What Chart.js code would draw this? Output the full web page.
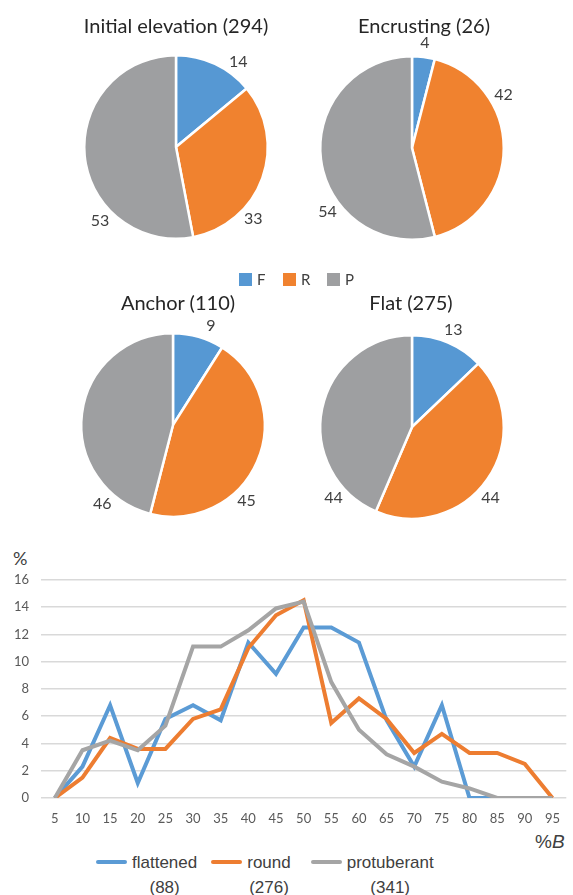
<!DOCTYPE html>
<html>
<head>
<meta charset="utf-8">
<script src="https://cdn.jsdelivr.net/npm/chart.js@4.4.1/dist/chart.umd.min.js"></script>
<style>
  body { margin: 0; background: #fff; width: 573px; height: 895px; position: relative; overflow: hidden; font-family: Lato, sans-serif; color: #404040; }
  .abs { position: absolute; }
  .pie { position: absolute; width: 240px; height: 240px; }
  .title { position: absolute; font-size: 20px; transform: translate(-50%, -50%); white-space: nowrap; color: #262626; }
  #pieLegend { left: 239px; top: 270px; display: flex; font-size: 15px; }
  #pieLegend .item { width: 44px; display: flex; align-items: center; }
  #pieLegend .sw { width: 13px; height: 13px; margin-right: 5px; }
  #lineLegend { top: 850px; left: 96px; display: flex; font-family: "Liberation Sans", Arial, sans-serif; font-size: 17px; color: #404040; }
  #lineLegend .item { display: flex; align-items: flex-start; }
  #lineLegend .sw { width: 31px; height: 4px; margin-top: 10px; margin-right: 5px; border-radius: 2px; }
  #lineLegend .txt { text-align: center; line-height: 25px; }
</style>
</head>
<body>
<div class="pie" style="left:56px; top:27px"><canvas id="pie0"></canvas></div>
<div class="pie" style="left:292px; top:28px"><canvas id="pie1"></canvas></div>
<div class="pie" style="left:53px; top:305px"><canvas id="pie2"></canvas></div>
<div class="pie" style="left:292px; top:307px"><canvas id="pie3"></canvas></div>
<div class="title" id="t0" style="left:176px; top:25px"></div>
<div class="title" id="t1" style="left:424px; top:25px"></div>
<div class="title" id="t2" style="left:178px; top:302px"></div>
<div class="title" id="t3" style="left:411px; top:302px"></div>
<div class="abs" id="pieLegend"></div>

<div class="abs" style="left:13px; top:547px; font-size:18px; color:#404040">%</div>
<div class="abs" style="left:0; top:560px; width:573px; height:266px"><canvas id="lineChart"></canvas></div>
<div class="abs" style="left:535px; top:831px; font-family:'Liberation Sans',Arial,sans-serif; font-size:19px; color:#404040">%<i>B</i></div>
<div class="abs" id="lineLegend"></div>

<script>
// pie data (percent of each group)
const categories = ["F", "R", "P"];
const pieTitles = ["Initial elevation (294)", "Encrusting (26)", "Anchor (110)", "Flat (275)"];
const initialElevation = [14, 33, 53];
const encrusting = [4, 42, 54];
const anchor = [9, 45, 46];
const flat = [13, 44, 44];

// line data
const binLabels = ["5", "10", "15", "20", "25", "30", "35", "40", "45", "50", "55", "60", "65", "70", "75", "80", "85", "90", "95"];
const seriesNames = ["flattened", "round", "protuberant"];
const seriesCounts = ["(88)", "(276)", "(341)"];
const flattened = [0, 2.3, 6.8, 1.1, 5.8, 6.8, 5.7, 11.4, 9.1, 12.5, 12.5, 11.4, 5.7, 2.3, 6.8, 0, 0, 0, 0];
const round = [0, 1.5, 4.4, 3.6, 3.6, 5.8, 6.5, 11.0, 13.4, 14.5, 5.5, 7.3, 5.8, 3.3, 4.7, 3.3, 3.3, 2.5, 0];
const protuberant = [0, 3.5, 4.2, 3.5, 5.3, 11.1, 11.1, 12.3, 13.9, 14.4, 8.5, 5.0, 3.2, 2.3, 1.2, 0.7, 0, 0, 0];

const pieColors = ["#5698D3", "#F0822F", "#9E9FA1"];
const lineColors = ["#5B9BD5", "#ED7D31", "#A5A5A5"];

// where each pie's value label sits (degrees clockwise from top)
const labelAngles = [[36, 133, 226], [7, 60, 233], [21, 136, 222], [23, 132, 228]];
const legendGaps = [14, 20, 0];

Chart.defaults.font.family = "Lato, sans-serif";
Chart.defaults.color = "#595959";

const pieLabels = {
    id: "pieLabels",
    afterDatasetsDraw(chart, args, opts) {
        const ctx = chart.ctx;
        const meta = chart.getDatasetMeta(0);
        ctx.save();
        ctx.font = "16px Lato, sans-serif";
        ctx.fillStyle = "#404040";
        ctx.textAlign = "center";
        ctx.textBaseline = "middle";
        meta.data.forEach((arc, i) => {
            const a = opts.angles[i] * Math.PI / 180;
            const d = arc.outerRadius + 14;
            ctx.fillText(chart.data.datasets[0].data[i], arc.x + Math.sin(a) * d, arc.y - Math.cos(a) * d);
        });
        ctx.restore();
    }
};

const pieData = [initialElevation, encrusting, anchor, flat];
pieData.forEach((vals, k) => {
    document.getElementById("t" + k).textContent = pieTitles[k];
    new Chart(document.getElementById("pie" + k), {
        type: "pie",
        data: {
            labels: categories,
            datasets: [{ data: vals, backgroundColor: pieColors, borderColor: "#fff", borderWidth: 2.5 }]
        },
        options: {
            responsive: true,
            maintainAspectRatio: false,
            animation: false,
            layout: { padding: 27 },
            plugins: {
                legend: { display: false },
                tooltip: { enabled: false },
                pieLabels: { angles: labelAngles[k] }
            }
        },
        plugins: [pieLabels]
    });
});

// shared legend for the pies
const pl = document.getElementById("pieLegend");
categories.forEach((c, i) => {
    pl.innerHTML += `<div class="item"><div class="sw" style="background:${pieColors[i]}"></div><span>${c}</span></div>`;
});

const lineSeries = [flattened, round, protuberant];
new Chart(document.getElementById("lineChart"), {
    type: "line",
    data: {
        labels: binLabels,
        datasets: lineSeries.map((d, i) => ({
            label: seriesNames[i],
            data: d,
            borderColor: lineColors[i],
            borderWidth: 4,
            pointRadius: 0,
            tension: 0,
            fill: false,
            order: 3 - i
        }))
    },
    options: {
        responsive: true,
        maintainAspectRatio: false,
        animation: false,
        layout: { padding: { top: 19, right: 0, left: 0, bottom: 0 } },
        plugins: { legend: { display: false }, tooltip: { enabled: false } },
        scales: {
            x: {
                offset: true,
                grid: { display: false, drawTicks: false },
                border: { display: false },
                ticks: { font: { size: 13 }, padding: 13, maxRotation: 0, autoSkip: false },
                afterFit: s => { s.height = 28; }
            },
            y: {
                min: 0,
                max: 16,
                ticks: { stepSize: 2, font: { size: 13 }, padding: 12 },
                grid: { color: "#D9D9D9", lineWidth: 1.5, drawTicks: false },
                border: { display: false },
                afterFit: s => { s.width = 41; }
            }
        }
    }
});

const ll = document.getElementById("lineLegend");
seriesNames.forEach((n, i) => {
    ll.innerHTML += `<div class="item" style="margin-right:${legendGaps[i]}px"><div class="sw" style="background:${lineColors[i]}"></div><div class="txt">${n}<br>${seriesCounts[i]}</div></div>`;
});
</script>
</body>
</html>
